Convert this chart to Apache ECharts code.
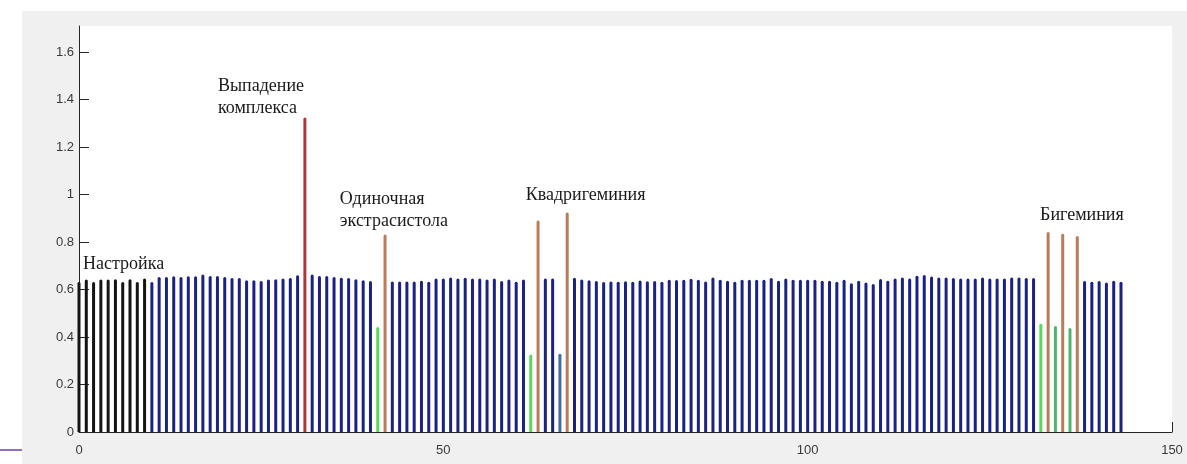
<!DOCTYPE html>
<html>
<head>
<meta charset="utf-8">
<script src="https://cdn.jsdelivr.net/npm/echarts@6/dist/echarts.min.js"></script>
<style>
  html, body { margin: 0; padding: 0; background: #ffffff; }
  #wrap { position: relative; width: 1187px; height: 464px; overflow: hidden; background: #ffffff; }
  #fig { position: absolute; left: 22px; top: 11px; width: 1165px; height: 453px; background: #f0f0f0; }
  #deco { position: absolute; left: 0; top: 449px; width: 22px; height: 2px; background: #8e6fc0; }
  #chart { position: absolute; left: 0; top: 0; width: 1187px; height: 464px; }
</style>
</head>
<body>
<div id="wrap">
  <div id="fig"></div>
  <div id="deco"></div>
  <div id="chart"></div>
</div>
<script>
// ---- data ----
// R-R interval values, one per beat index 0..143
const heights = [
  0.632, 0.642, 0.632, 0.642, 0.642, 0.643, 0.632, 0.643, 0.632, 0.646,
  0.632, 0.653, 0.653, 0.656, 0.653, 0.656, 0.656, 0.663, 0.657, 0.657,
  0.653, 0.649, 0.649, 0.639, 0.639, 0.636, 0.642, 0.643, 0.646, 0.649,
  0.660, 1.325, 0.663, 0.657, 0.657, 0.653, 0.650, 0.649, 0.643, 0.639,
  0.636, 0.442, 0.832, 0.634, 0.634, 0.634, 0.634, 0.637, 0.633, 0.646,
  0.646, 0.651, 0.646, 0.650, 0.646, 0.646, 0.642, 0.646, 0.636, 0.642,
  0.633, 0.642, 0.326, 0.891, 0.646, 0.646, 0.330, 0.924, 0.650, 0.642,
  0.639, 0.636, 0.632, 0.634, 0.633, 0.635, 0.633, 0.638, 0.635, 0.636,
  0.633, 0.641, 0.640, 0.641, 0.645, 0.641, 0.634, 0.651, 0.641, 0.637,
  0.633, 0.641, 0.641, 0.641, 0.641, 0.649, 0.637, 0.647, 0.641, 0.641,
  0.641, 0.641, 0.637, 0.637, 0.633, 0.641, 0.627, 0.637, 0.630, 0.623,
  0.644, 0.637, 0.647, 0.651, 0.647, 0.658, 0.661, 0.655, 0.651, 0.651,
  0.649, 0.647, 0.647, 0.647, 0.651, 0.647, 0.647, 0.647, 0.651, 0.651,
  0.649, 0.649, 0.456, 0.842, 0.446, 0.835, 0.438, 0.825, 0.636, 0.633,
  0.636, 0.630, 0.637, 0.633
];
// bar groups (indices into heights)
const setupCount = 10;                       // first beats: "Настройка"
const dropoutBars = [31];                    // red
const earlyBars = [41, 62, 132];             // bright green
const earlyBars2 = [134, 136];               // darker green
const earlyBlueBars = [66];                  // steel blue
const ectopicBars = [42, 63, 67, 133, 135, 137]; // brown
// axis ticks
const xTicks = [0, 50, 100, 150];
const yTicks = [0, 0.2, 0.4, 0.6, 0.8, 1, 1.2, 1.4, 1.6];
// annotations: [text, x (data), y (data, top of text)]
const annotations = [
  ['Выпадение\nкомплекса', 19.07, 1.504],
  ['Настройка', 0.55, 0.752],
  ['Одиночная\nэкстрасистола', 35.8, 1.026],
  ['Квадригеминия', 61.3, 1.043],
  ['Бигеминия', 131.9, 0.959]
];

const colors = {
  setup: '#141414', normal: '#1b2283', dropout: '#b3353a',
  early: '#5cd65c', early2: '#4db56e', earlyBlue: '#3f6fa0', ectopic: '#b97b58'
};
function colorFor(i) {
  if (dropoutBars.includes(i)) return colors.dropout;
  if (earlyBars.includes(i)) return colors.early;
  if (earlyBars2.includes(i)) return colors.early2;
  if (earlyBlueBars.includes(i)) return colors.earlyBlue;
  if (ectopicBars.includes(i)) return colors.ectopic;
  if (i < setupCount) return colors.setup;
  return colors.normal;
}
const barData = heights.map((h, i) => ({ value: [i, h], itemStyle: { color: colorFor(i) } }));

const chart = echarts.init(document.getElementById('chart'), null, { renderer: 'canvas' });
const axisColor = '#262626';
const labelStyle = { color: '#3a3a3a', fontFamily: 'Liberation Sans, Arial, sans-serif', fontSize: 13 };
chart.setOption({
  backgroundColor: 'transparent',
  animation: false,
  grid: { left: 79, right: 15, top: 26, bottom: 32, show: true, backgroundColor: '#ffffff', borderWidth: 0 },
  xAxis: {
    type: 'value', min: 0, max: 150, interval: 50,
    axisLine: { show: true, onZero: false, lineStyle: { color: axisColor, width: 1 } },
    axisTick: { show: true, inside: true, length: 10, lineStyle: { color: axisColor } },
    axisLabel: Object.assign({ margin: 12, customValues: xTicks }, labelStyle),
    splitLine: { show: false }
  },
  yAxis: {
    type: 'value', min: 0, max: 1.71,
    axisLine: { show: true, lineStyle: { color: axisColor, width: 1 } },
    axisTick: { show: true, inside: true, length: 10, customValues: yTicks, lineStyle: { color: axisColor } },
    axisLabel: Object.assign({ margin: 5, customValues: yTicks, formatter: v => String(Math.round(v * 10) / 10) }, labelStyle),
    splitLine: { show: false }
  },
  series: [{
    type: 'bar',
    data: barData,
    barWidth: 3,
    itemStyle: { borderRadius: [1.5, 1.5, 0, 0] }
  }]
});

const graphics = annotations.map(([text, x, y]) => {
  const p = chart.convertToPixel({ gridIndex: 0 }, [x, y]);
  return {
    type: 'text', x: p[0], y: p[1], z: 100,
    style: {
      text: text, fill: '#1a1a1a',
      font: '18px "Liberation Serif", "Times New Roman", serif',
      lineHeight: 22, align: 'left', verticalAlign: 'top'
    }
  };
});
chart.setOption({ graphic: graphics });
</script>
</body>
</html>
